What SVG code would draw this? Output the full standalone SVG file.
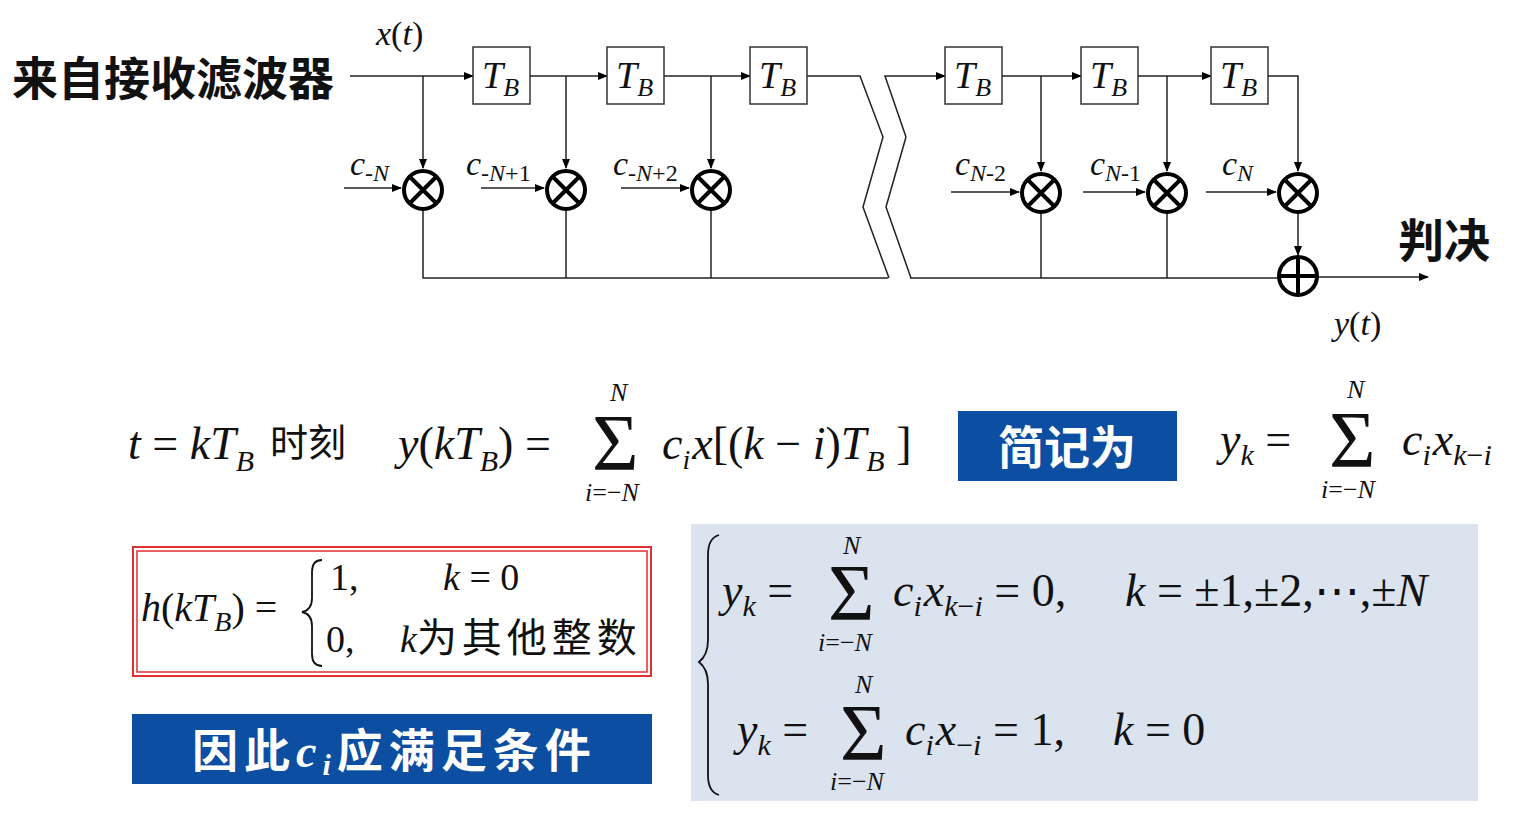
<svg xmlns="http://www.w3.org/2000/svg" width="1525" height="839" viewBox="0 0 1525 839">
<defs>
<marker id="ar" markerWidth="10" markerHeight="8" refX="9" refY="4" orient="auto" markerUnits="userSpaceOnUse"><path d="M0,0 L10,4 L0,8 z" fill="#000"/></marker>
<style>
.ln{stroke:#222;stroke-width:1.5;fill:none}
.bx{fill:#fff;stroke:#333;stroke-width:1.5}
.mul{fill:#fff;stroke:#000;stroke-width:4}
.m{font-family:"Liberation Serif",serif;font-style:italic;fill:#111}
.r{font-family:"Liberation Serif",serif;font-style:normal;fill:#111}
.sg{font-family:"Liberation Serif",serif;font-style:normal;fill:#111;font-size:80px}
.cj{font-family:"Noto Sans CJK SC",sans-serif;font-weight:bold;fill:#111}
.cn{font-family:"Noto Sans CJK SC",sans-serif;font-weight:normal;fill:#111}
.wt{font-family:"Noto Sans CJK SC",sans-serif;font-weight:bold;fill:#fff}
</style>
</defs>
<rect width="1525" height="839" fill="#fff"/>
<text class="cj" x="12" y="95" font-size="46">来自接收滤波器</text>
<text class="cj" x="1398" y="257" font-size="46">判决</text>
<text class="m" x="376" y="45" font-size="34">x<tspan class="r">(</tspan>t<tspan class="r">)</tspan></text>
<text class="m" x="1334" y="335" font-size="34">y<tspan class="r">(</tspan>t<tspan class="r">)</tspan></text>
<g id="connectors">
<line class="ln" x1="350" y1="76" x2="473" y2="76" marker-end="url(#ar)"/>
<line class="ln" x1="530" y1="76" x2="607" y2="76" marker-end="url(#ar)"/>
<line class="ln" x1="664" y1="76" x2="750" y2="76" marker-end="url(#ar)"/>
<polyline class="ln" points="807,76 860,76 883,137 863,207 889,278"/>
<polyline class="ln" points="906,137 886,207 911,278"/>
<path class="ln" d="M906,137 L885,76 L945,76" marker-end="url(#ar)"/>
<line class="ln" x1="1002" y1="76" x2="1081" y2="76" marker-end="url(#ar)"/>
<line class="ln" x1="1138" y1="76" x2="1211" y2="76" marker-end="url(#ar)"/>
<polyline class="ln" points="1268,76 1298,76 1298,171" marker-end="url(#ar)"/>
<line class="ln" x1="423" y1="76" x2="423" y2="168" marker-end="url(#ar)"/>
<line class="ln" x1="566" y1="76" x2="566" y2="168" marker-end="url(#ar)"/>
<line class="ln" x1="711" y1="76" x2="711" y2="168" marker-end="url(#ar)"/>
<line class="ln" x1="1041" y1="76" x2="1041" y2="171" marker-end="url(#ar)"/>
<line class="ln" x1="1167" y1="76" x2="1167" y2="171" marker-end="url(#ar)"/>
<line class="ln" x1="344" y1="188" x2="401" y2="188" marker-end="url(#ar)"/>
<line class="ln" x1="481" y1="188" x2="544" y2="188" marker-end="url(#ar)"/>
<line class="ln" x1="621" y1="188" x2="689" y2="188" marker-end="url(#ar)"/>
<line class="ln" x1="951" y1="192" x2="1019" y2="192" marker-end="url(#ar)"/>
<line class="ln" x1="1083" y1="192" x2="1145" y2="192" marker-end="url(#ar)"/>
<line class="ln" x1="1206" y1="192" x2="1276" y2="192" marker-end="url(#ar)"/>
<polyline class="ln" points="423,210 423,278 888,278"/>
<line class="ln" x1="566" y1="210" x2="566" y2="278"/>
<line class="ln" x1="711" y1="210" x2="711" y2="278"/>
<line class="ln" x1="910" y1="278" x2="1277" y2="278"/>
<line class="ln" x1="1041" y1="213" x2="1041" y2="278"/>
<line class="ln" x1="1167" y1="213" x2="1167" y2="278"/>
<line class="ln" x1="1298" y1="213" x2="1298" y2="255" marker-end="url(#ar)"/>
<line class="ln" x1="1318" y1="277" x2="1428" y2="277" marker-end="url(#ar)"/>
</g>
<g id="d1"><rect class="bx" x="473" y="47" width="57" height="57"/><text class="m" x="482" y="88" font-size="38">T<tspan font-size="26" dy="8">B</tspan></text></g>
<g id="d2"><rect class="bx" x="607" y="47" width="57" height="57"/><text class="m" x="616" y="88" font-size="38">T<tspan font-size="26" dy="8">B</tspan></text></g>
<g id="d3"><rect class="bx" x="750" y="47" width="57" height="57"/><text class="m" x="759" y="88" font-size="38">T<tspan font-size="26" dy="8">B</tspan></text></g>
<g id="d4"><rect class="bx" x="945" y="47" width="57" height="57"/><text class="m" x="954" y="88" font-size="38">T<tspan font-size="26" dy="8">B</tspan></text></g>
<g id="d5"><rect class="bx" x="1081" y="47" width="57" height="57"/><text class="m" x="1090" y="88" font-size="38">T<tspan font-size="26" dy="8">B</tspan></text></g>
<g id="d6"><rect class="bx" x="1211" y="47" width="57" height="57"/><text class="m" x="1220" y="88" font-size="38">T<tspan font-size="26" dy="8">B</tspan></text></g>
<g id="m1"><circle class="mul" cx="423" cy="190" r="19"/><path d="M409.5,176.5 L436.5,203.5 M436.5,176.5 L409.5,203.5" stroke="#000" stroke-width="4"/></g>
<g id="m2"><circle class="mul" cx="566" cy="190" r="19"/><path d="M552.5,176.5 L579.5,203.5 M579.5,176.5 L552.5,203.5" stroke="#000" stroke-width="4"/></g>
<g id="m3"><circle class="mul" cx="711" cy="190" r="19"/><path d="M697.5,176.5 L724.5,203.5 M724.5,176.5 L697.5,203.5" stroke="#000" stroke-width="4"/></g>
<g id="m4"><circle class="mul" cx="1041" cy="193" r="19"/><path d="M1027.5,179.5 L1054.5,206.5 M1054.5,179.5 L1027.5,206.5" stroke="#000" stroke-width="4"/></g>
<g id="m5"><circle class="mul" cx="1167" cy="193" r="19"/><path d="M1153.5,179.5 L1180.5,206.5 M1180.5,179.5 L1153.5,206.5" stroke="#000" stroke-width="4"/></g>
<g id="m6"><circle class="mul" cx="1298" cy="193" r="19"/><path d="M1284.5,179.5 L1311.5,206.5 M1311.5,179.5 L1284.5,206.5" stroke="#000" stroke-width="4"/></g>
<g id="sum"><circle class="mul" cx="1298" cy="276" r="19"/><path d="M1279,276 L1317,276 M1298,257 L1298,295" stroke="#000" stroke-width="4"/></g>
<g font-size="34">
<text class="m" x="350" y="175">c<tspan font-size="24" dy="6">-N</tspan></text>
<text class="m" x="466" y="175">c<tspan font-size="24" dy="6">-N</tspan><tspan class="r" font-size="24">+1</tspan></text>
<text class="m" x="613" y="175">c<tspan font-size="24" dy="6">-N</tspan><tspan class="r" font-size="24">+2</tspan></text>
<text class="m" x="955" y="175">c<tspan font-size="24" dy="6">N</tspan><tspan class="r" font-size="24">-2</tspan></text>
<text class="m" x="1090" y="175">c<tspan font-size="24" dy="6">N</tspan><tspan class="r" font-size="24">-1</tspan></text>
<text class="m" x="1222" y="175">c<tspan font-size="24" dy="6">N</tspan></text>
</g>
<g id="eq1" font-size="46">
<text class="m" x="128" y="459">t<tspan class="r"> = </tspan>kT<tspan font-size="30" dy="12">B</tspan></text>
<text class="cn" x="270" y="456" font-size="38">时刻</text>
<text class="m" x="398" y="459">y<tspan class="r">(</tspan>kT<tspan font-size="30" dy="12">B</tspan><tspan class="r" dy="-12">) = </tspan></text>
<text class="sg" x="592" y="470">Σ</text>
<text class="m" x="610" y="401" font-size="26">N</text>
<text class="m" x="585" y="501" font-size="26">i<tspan class="r">=−</tspan>N</text>
<text class="m" x="662" y="459">c<tspan font-size="28" dy="10">i</tspan><tspan dx="2" dy="-10">x</tspan><tspan class="r">[(</tspan>k<tspan class="r"> − </tspan>i<tspan class="r">)</tspan>T<tspan font-size="30" dy="12">B</tspan><tspan class="r" dy="-12"> ]</tspan></text>
</g>
<g id="tag1"><rect x="958" y="411" width="219" height="70" fill="#0b4ea2"/><text class="wt" x="1067" y="464" font-size="46" text-anchor="middle">简记为</text></g>
<g id="eq2" font-size="46">
<text class="m" x="1220" y="455">y<tspan font-size="30" dy="10">k</tspan><tspan class="r" dy="-10">  =</tspan></text>
<text class="sg" x="1329" y="467">Σ</text>
<text class="m" x="1347" y="398" font-size="26">N</text>
<text class="m" x="1321" y="498" font-size="26">i<tspan class="r">=−</tspan>N</text>
<text class="m" x="1402" y="455">c<tspan font-size="30" dy="10">i</tspan><tspan dx="2" dy="-10">x</tspan><tspan font-size="30" dy="10">k</tspan><tspan class="r" font-size="30">−</tspan><tspan font-size="30">i</tspan></text>
</g>
<g id="hbox">
<rect x="133" y="547" width="518" height="129" fill="#fff" stroke="#e03030" stroke-width="2"/>
<rect x="137" y="551" width="510" height="121" fill="none" stroke="#e03030" stroke-width="1.5"/>
<text class="m" x="141" y="621" font-size="40">h<tspan class="r">(</tspan>kT<tspan font-size="28" dy="10">B</tspan><tspan class="r" dy="-10">) =</tspan></text>
<path d="M322,560 Q312,560 312,572 L312,598 Q312,610 302,612 Q312,614 312,626 L312,654 Q312,666 322,666" fill="none" stroke="#111" stroke-width="1.8"/>
<text class="r" x="330" y="590" font-size="38">1,</text>
<text class="m" x="443" y="590" font-size="38">k<tspan class="r">  = 0</tspan></text>
<text class="r" x="326" y="652" font-size="38">0,</text>
<text class="m" x="400" y="652" font-size="38">k<tspan font-family="Noto Sans CJK SC,sans-serif" font-style="normal" font-size="40" letter-spacing="5">为其他整数</tspan></text>
</g>
<g id="tag2"><rect x="132" y="714" width="520" height="70" fill="#0b4ea2"/><text class="wt" x="192" y="767" font-size="46" letter-spacing="6">因此<tspan font-family="Liberation Serif,serif" font-style="italic">c</tspan><tspan font-family="Liberation Serif,serif" font-style="italic" font-size="30" dy="8">i</tspan><tspan dy="-8">应满足条件</tspan></text></g>
<g id="cond">
<rect x="691" y="524" width="787" height="277" fill="#dae3ee"/>
<path d="M719,535 Q708,538 708,555 L708,640 Q708,655 699,662 Q708,669 708,684 L708,775 Q708,792 719,795" fill="none" stroke="#111" stroke-width="1.8"/>
<text class="m" x="722" y="606" font-size="46">y<tspan font-size="30" dy="10">k</tspan><tspan class="r" dy="-10"> =</tspan></text>
<text class="sg" x="828" y="620">Σ</text>
<text class="m" x="843" y="554" font-size="26">N</text>
<text class="m" x="818" y="651" font-size="26">i<tspan class="r">=−</tspan>N</text>
<text class="m" x="893" y="606" font-size="46">c<tspan font-size="30" dy="10">i</tspan><tspan dx="2" dy="-10">x</tspan><tspan font-size="30" dy="10">k</tspan><tspan class="r" font-size="30">−</tspan><tspan font-size="30">i</tspan><tspan class="r" dy="-10"> = 0,</tspan></text>
<text class="m" x="1125" y="606" font-size="46">k<tspan class="r"> = ±1,±2,⋯,±</tspan>N</text>
<text class="m" x="737" y="745" font-size="46">y<tspan font-size="30" dy="10">k</tspan><tspan class="r" dy="-10"> =</tspan></text>
<text class="sg" x="840" y="760">Σ</text>
<text class="m" x="855" y="693" font-size="26">N</text>
<text class="m" x="830" y="790" font-size="26">i<tspan class="r">=−</tspan>N</text>
<text class="m" x="905" y="745" font-size="46">c<tspan font-size="30" dy="10">i</tspan><tspan dx="2" dy="-10">x</tspan><tspan class="r" font-size="30" dy="10">−</tspan><tspan font-size="30">i</tspan><tspan class="r" dy="-10"> = 1,</tspan></text>
<text class="m" x="1113" y="745" font-size="46">k<tspan class="r"> = 0</tspan></text>
</g>
</svg>
